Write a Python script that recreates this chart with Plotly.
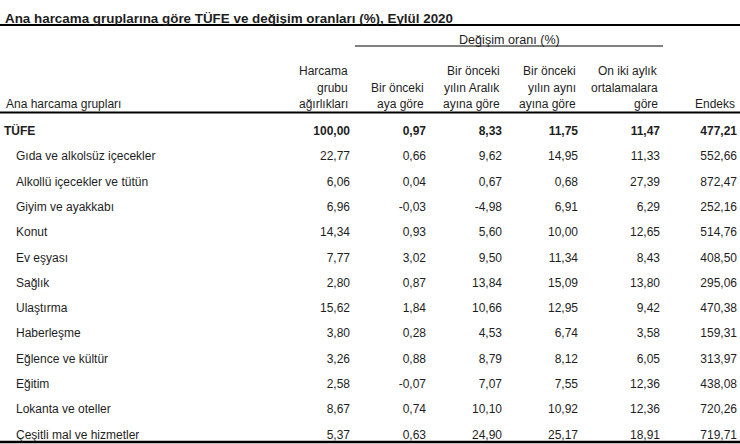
import plotly.graph_objects as go

# --- data ---------------------------------------------------------------
title = "Ana harcama gruplarına göre TÜFE ve değişim oranları (%), Eylül 2020"

groups = ["TÜFE", "Gıda ve alkolsüz içecekler", "Alkollü içecekler ve tütün",
          "Giyim ve ayakkabı", "Konut", "Ev eşyası", "Sağlık", "Ulaştırma",
          "Haberleşme", "Eğlence ve kültür", "Eğitim", "Lokanta ve oteller",
          "Çeşitli mal ve hizmetler"]

weights = [100.00, 22.77, 6.06, 6.96, 14.34, 7.77, 2.80, 15.62, 3.80, 3.26, 2.58, 8.67, 5.37]
monthly = [0.97, 0.66, 0.04, -0.03, 0.93, 3.02, 0.87, 1.84, 0.28, 0.88, -0.07, 0.74, 0.63]
ytd = [8.33, 9.62, 0.67, -4.98, 5.60, 9.50, 13.84, 10.66, 4.53, 8.79, 7.07, 10.10, 24.90]
annual = [11.75, 14.95, 0.68, 6.91, 10.00, 11.34, 15.09, 12.95, 6.74, 8.12, 7.55, 10.92, 25.17]
avg12 = [11.47, 11.33, 27.39, 6.29, 12.65, 8.43, 13.80, 9.42, 3.58, 6.05, 12.36, 12.36, 18.91]
index = [477.21, 552.66, 872.47, 252.16, 514.76, 408.50, 295.06, 470.38, 159.31, 313.97, 438.08, 720.26, 719.71]

col_headers = [
    ["Harcama", "grubu", "ağırlıkları"],
    ["", "Bir önceki", "aya göre"],
    ["Bir önceki", "yılın Aralık", "ayına göre"],
    ["Bir önceki", "yılın aynı", "ayına göre"],
    ["On iki aylık", "ortalamalara", "göre"],
    ["", "", "Endeks"],
]
group_header = "Değişim oranı (%)"
row_header = "Ana harcama grupları"

# --- layout constants -----------------------------------------------------
W, H = 740, 444
col_right = [350, 426, 502, 578, 660, 737]
row0, row_step = 132, 25.3
header_y = [71.5, 87.5, 103.5]
ink = "#1e1e1e"
font = "Arial, Liberation Sans, sans-serif"


def fmt(v):
    return f"{v:.2f}".replace(".", ",")


def py(p):
    return 1 - p / H


fig = go.Figure()

# row labels
labels = ["<b>" + g + "</b>" if i == 0 else g for i, g in enumerate(groups)]
fig.add_trace(go.Scatter(
    x=[4] + [16] * (len(groups) - 1), y=groups, mode="text", text=labels,
    textposition="middle right", textfont=dict(family=font, size=12, color=ink),
    hoverinfo="skip", showlegend=False))

# value columns
for xr, vals in zip(col_right, [weights, monthly, ytd, annual, avg12, index]):
    txt = ["<b>" + fmt(v) + "</b>" if i == 0 else fmt(v) for i, v in enumerate(vals)]
    fig.add_trace(go.Scatter(
        x=[xr] * len(vals), y=groups, mode="text", text=txt,
        textposition="middle left", textfont=dict(family=font, size=12, color=ink),
        hoverinfo="skip", showlegend=False))

ann = [dict(x=3, y=py(18), text="<b>" + title + "</b>", xanchor="left",
            font=dict(size=13.4)),
       dict(x=4, y=py(header_y[2]), text=row_header, xanchor="left"),
       dict(x=(355 + 663) / 2, y=py(39.5), text=group_header, xanchor="center",
            font=dict(size=12.6))]
for xr, lines in zip(col_right, col_headers):
    for yy, t in zip(header_y, lines):
        if t:
            ann.append(dict(x=xr, y=py(yy), text=t, xanchor="right"))
for a in ann:
    a.update(xref="x", yref="paper", yanchor="middle", showarrow=False)
    a.setdefault("font", dict(size=12))
    a["font"].update(family=font, color=ink)

shapes = [
    dict(x0=0, x1=W, y0=py(25), y1=py(25), line=dict(width=2)),
    dict(x0=355, x1=663, y0=py(46), y1=py(46), line=dict(width=1)),
    dict(x0=0, x1=W, y0=py(112.5), y1=py(112.5), line=dict(width=2)),
    dict(x0=0, x1=W, y0=py(442), y1=py(442), line=dict(width=2.5)),
]
for s in shapes:
    s.update(type="line", xref="x", yref="paper")
    s["line"]["color"] = "#000000"

fig.update_layout(
    width=W, height=H, margin=dict(l=0, r=0, t=0, b=0),
    paper_bgcolor="white", plot_bgcolor="white",
    xaxis=dict(range=[0, W], visible=False, fixedrange=True),
    yaxis=dict(type="category", categoryarray=groups,
               range=[(H - row0) / row_step, -row0 / row_step],
               visible=False, fixedrange=True),
    annotations=ann, shapes=shapes,
)

fig.write_html("out.html", config={"displayModeBar": False},
               post_script="document.body.style.margin='0px';"
                           "document.body.style.overflow='hidden';")
